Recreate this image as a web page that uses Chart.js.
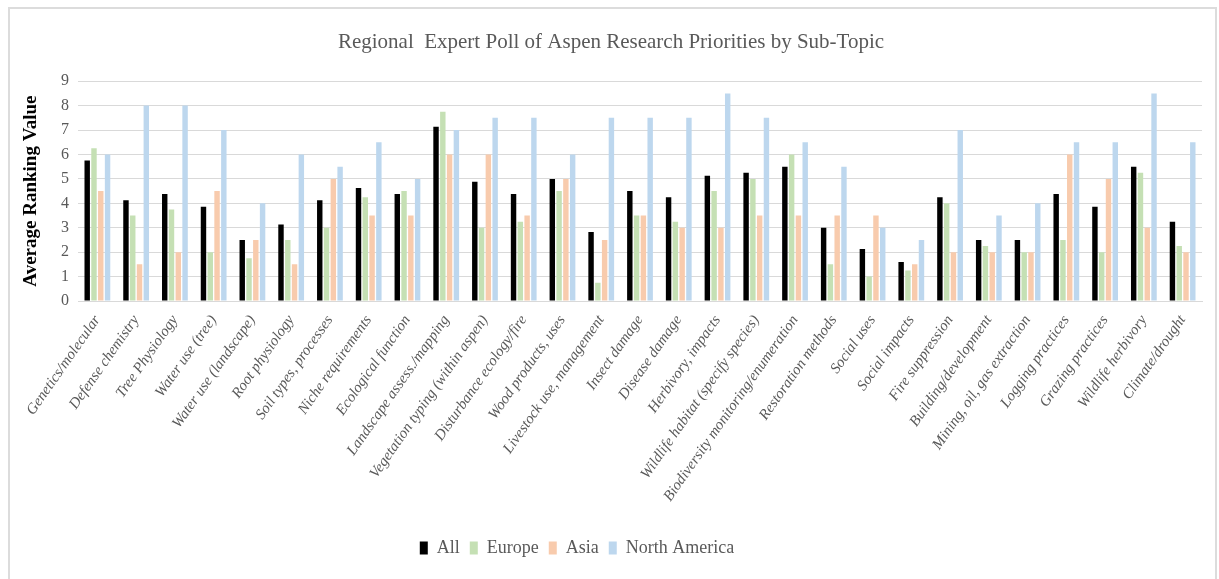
<!DOCTYPE html>
<html>
<head>
<meta charset="utf-8">
<script src="https://cdn.jsdelivr.net/npm/chart.js@4.4.1/dist/chart.umd.min.js"></script>
<style>
  html, body { margin: 0; padding: 0; background: #fff; }
  #frame {
    position: absolute; left: 8px; top: 7px; width: 1209px; height: 600px;
    border: 2px solid #dcdcdc; box-sizing: border-box;
  }
  #wrap { position: absolute; left: 0; top: 0; width: 1219px; height: 579px; }
</style>
</head>
<body>
<div id="frame"></div>
<div id="wrap"><canvas id="chart" width="1219" height="579"></canvas></div>
<script>
const categories = [
  'Genetics/molecular', 'Defense chemistry', 'Tree Physiology', 'Water use (tree)',
  'Water use (landscape)', 'Root physiology', 'Soil types, processes', 'Niche requirements',
  'Ecological function', 'Landscape assess./mapping', 'Vegetation typing (within aspen)',
  'Disturbance ecology/fire', 'Wood products, uses', 'Livestock use, management',
  'Insect damage', 'Disease damage', 'Herbivory, impacts', 'Wildlife habitat (specify species)',
  'Biodiversity monitoring/enumeration', 'Restoration methods', 'Social uses', 'Social impacts',
  'Fire suppression', 'Building/development', 'Mining, oil, gas extraction', 'Logging practices',
  'Grazing practices', 'Wildlife herbivory', 'Climate/drought'
];

const allValues = [5.75, 4.13, 4.38, 3.86, 2.5, 3.13, 4.13, 4.63, 4.38, 7.13, 4.88,
  4.38, 5.0, 2.83, 4.5, 4.25, 5.13, 5.25, 5.5, 3.0, 2.13, 1.6, 4.25, 2.5, 2.5,
  4.38, 3.86, 5.5, 3.25];
const europeValues = [6.25, 3.5, 3.75, 2.0, 1.75, 2.5, 3.0, 4.25, 4.5, 7.75, 3.0,
  3.25, 4.5, 0.75, 3.5, 3.25, 4.5, 5.0, 6.0, 1.5, 1.0, 1.25, 4.0, 2.25, 2.0,
  2.5, 2.0, 5.25, 2.25];
const asiaValues = [4.5, 1.5, 2.0, 4.5, 2.5, 1.5, 5.0, 3.5, 3.5, 6.0, 6.0,
  3.5, 5.0, 2.5, 3.5, 3.0, 3.0, 3.5, 3.5, 3.5, 3.5, 1.5, 2.0, 2.0, 2.0,
  6.0, 5.0, 3.0, 2.0];
const northAmericaValues = [6.0, 8.0, 8.0, 7.0, 4.0, 6.0, 5.5, 6.5, 5.0, 7.0, 7.5,
  7.5, 6.0, 7.5, 7.5, 7.5, 8.5, 7.5, 6.5, 5.5, 3.0, 2.5, 7.0, 3.5, 4.0,
  6.5, 6.5, 8.5, 6.5];

const seriesNames = ['All', 'Europe', 'Asia', 'North America'];
const seriesColors = ['#000000', '#c5e0b4', '#f8cbad', '#bdd7ee'];
const seriesValues = [allValues, europeValues, asiaValues, northAmericaValues];

const serif = '"Liberation Serif", "DejaVu Serif", serif';
const textGray = '#595959';

// the legend in the original sits a little left of the page centre
const legendShift = {
  id: 'legendShift',
  afterLayout(chart) {
    const lg = chart.legend;
    if (!lg) return;
    lg.left -= 34;
    lg.right -= 34;
  }
};

const ctx = document.getElementById('chart').getContext('2d');
new Chart(ctx, {
  type: 'bar',
  data: {
    labels: categories,
    datasets: seriesNames.map((name, i) => ({
      label: name,
      data: seriesValues[i],
      backgroundColor: seriesColors[i],
      borderWidth: 0,
      categoryPercentage: 0.7,
      barPercentage: 0.8
    }))
  },
  options: {
    responsive: false,
    animation: false,
    devicePixelRatio: 1,
    layout: { padding: { left: 20, right: 17, top: 0, bottom: 12 } },
    scales: {
      x: {
        grid: { display: false },
        border: { display: true, color: '#d9d9d9', width: 1 },
        ticks: {
          autoSkip: false,
          minRotation: 55,
          maxRotation: 55,
          padding: 3,
          color: textGray,
          font: { family: serif, size: 15, style: 'italic' }
        },
        afterFit: (scale) => { scale.height = 228; }
      },
      y: {
        min: 0,
        max: 9,
        ticks: {
          stepSize: 1,
          padding: 9,
          color: textGray,
          font: { family: serif, size: 16 }
        },
        grid: { color: '#d9d9d9', lineWidth: 1, drawTicks: false },
        border: { display: false },
        title: {
          display: true,
          text: 'Average Ranking Value',
          color: '#000',
          padding: { top: 0, bottom: 4 },
          font: { family: serif, size: 19, weight: 'bold' }
        },
        afterFit: (scale) => { scale.width = 58; }
      }
    },
    plugins: {
      title: {
        display: true,
        text: 'Regional  Expert Poll of Aspen Research Priorities by Sub-Topic',
        color: textGray,
        padding: { top: 30, bottom: 26 },
        font: { family: serif, size: 21, weight: 'normal' }
      },
      legend: {
        position: 'bottom',
        labels: {
          boxWidth: 8,
          boxHeight: 13,
          padding: 10,
          color: textGray,
          font: { family: serif, size: 18 }
        }
      },
      tooltip: { enabled: false }
    }
  },
  plugins: [legendShift]
});
</script>
</body>
</html>
